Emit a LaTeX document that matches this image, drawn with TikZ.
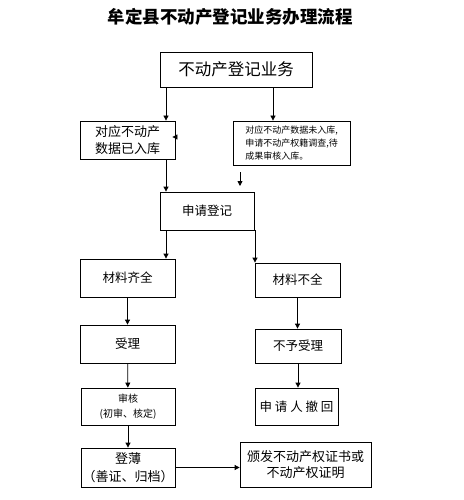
\documentclass[tikz,border=0pt]{standalone}
\usepackage{fontspec}
\setmainfont{Noto Sans CJK SC}
\usetikzlibrary{arrows.meta}

\begin{document}
\begin{tikzpicture}[x=1pt,y=-1pt,
        box/.style={draw,line width=0.8pt,align=center,inner sep=0pt,font=\fontsize{12.5}{17}\selectfont},
        arr/.style={-{Triangle[length=5pt,width=5pt]},line width=0.8pt}]
        \useasboundingbox (0,0) rectangle (463,500);
        \node[font=\fontsize{17.5}{20}\selectfont\bfseries] (title) at (230,17) {牟定县不动产登记业务办理流程};
        \node[box,minimum width=152pt,minimum height=35pt,font=\fontsize{16.5}{20}\selectfont] (yewu) at (236,69.5) {不动产登记业务};
        \node[box,minimum width=95pt,minimum height=38pt,font=\fontsize{13}{17}\selectfont] (yiruku) at (127.5,140) {对应不动产\\数据已入库};
        \node[box,minimum width=117pt,minimum height=44pt,align=left,font=\fontsize{9}{13}\selectfont] (weiruku) at (291.5,143) {对应不动产数据未入库,\\申请不动产权籍调查,待\\成果审核入库。};
        \node[box,minimum width=94pt,minimum height=38pt] (shenqing) at (207,211) {申请登记};
        \node[box,minimum width=95pt,minimum height=38pt] (qiquan) at (127.5,278) {材料齐全};
        \node[box,minimum width=85pt,minimum height=34pt] (buquan) at (297.5,280) {材料不全};
        \node[box,minimum width=95pt,minimum height=38pt] (shouli) at (127.5,344) {受理};
        \node[box,minimum width=86pt,minimum height=34pt] (buyu) at (298,346) {不予受理};
        \node[box,minimum width=94pt,minimum height=37pt,font=\fontsize{10}{15}\selectfont] (shenhe) at (128,406.5) {审核\\(初审、核定)};
        \node[box,minimum width=83pt,minimum height=37pt] (chehui) at (296.5,406.5) {申 请 人 撤 回};
        \node[box,minimum width=94pt,minimum height=39pt,font=\fontsize{13}{18}\selectfont] (dengbu) at (128,467.5) {登薄\\（善证、归档）};
        \node[box,minimum width=131pt,minimum height=45pt,font=\fontsize{13}{16}\selectfont] (banfa) at (305.5,464.5) {颁发不动产权证书或\\不动产权证明};
        \coordinate (lanea) at (166,0);
        \coordinate (laneb) at (273,0);
        \coordinate (lanec) at (255,0);
        \coordinate (free) at (240,172);
        \draw[arr] (lanea |- yewu.south) -- (lanea |- yiruku.north);
        \draw[arr] (laneb |- yewu.south) -- (laneb |- weiruku.north);
        \draw[arr] ([yshift=3pt]yiruku.east) -- ++(-3,0);
        \draw[arr] (lanea |- yiruku.south) -- (lanea |- shenqing.north);
        \draw[arr] (free) -- ++(0,14);
        \draw[arr] (lanea |- shenqing.south) -- (lanea |- qiquan.north);
        \draw[arr] (lanec |- shenqing.south) -- (lanec |- buquan.north);
        \draw[arr] (qiquan) -- (shouli);
        \draw[arr] (buquan.south) -- (buquan.south |- buyu.north);
        \draw[arr] (shouli) -- (shenhe);
        \draw[arr] (buyu.south) -- (buyu.south |- chehui.north);
        \draw[arr] (shenhe) -- (dengbu);
        \draw[arr] (dengbu.east) -- (dengbu.east -| banfa.west);
    \end{tikzpicture}
\end{document}
